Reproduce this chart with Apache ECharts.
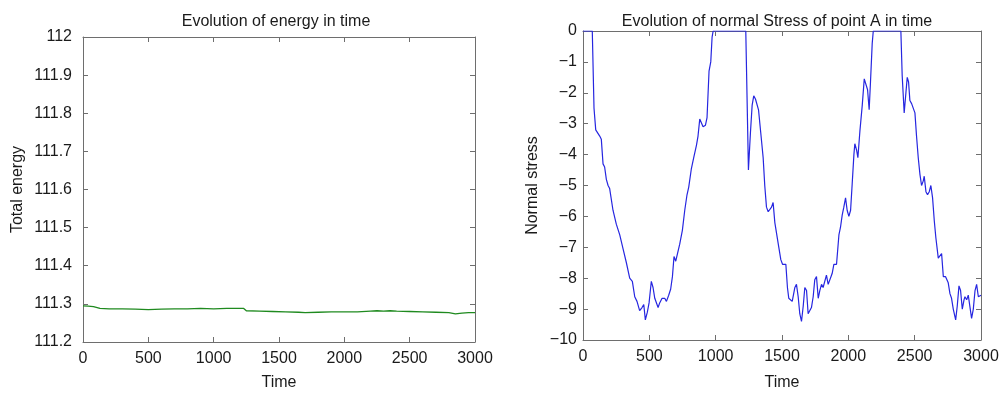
<!DOCTYPE html>
<html>
<head>
<meta charset="utf-8">
<script src="https://cdn.jsdelivr.net/npm/echarts@6/dist/echarts.min.js"></script>
<style>
html,body{margin:0;padding:0;background:#fff;}
#chart{width:1004px;height:396px;}
</style>
</head>
<body>
<div id="chart"></div>
<script>
// ---- Data ----
var energyTime = [0, 40, 80, 130, 200, 300, 400, 500, 600, 700, 800, 900, 1000, 1100, 1200, 1230, 1250, 1350, 1450, 1550, 1650, 1700, 1800, 1900, 2000, 2100, 2200, 2250, 2300, 2350, 2400, 2500, 2600, 2700, 2800, 2850, 2900, 2950, 3000];
var energyValues = [111.295, 111.294, 111.293, 111.288, 111.287, 111.287, 111.286, 111.285, 111.286, 111.287, 111.287, 111.288, 111.287, 111.288, 111.288, 111.288, 111.282, 111.281, 111.280, 111.279, 111.278, 111.277, 111.278, 111.279, 111.279, 111.279, 111.281, 111.282, 111.281, 111.282, 111.281, 111.280, 111.279, 111.278, 111.277, 111.274, 111.276, 111.277, 111.277];

var stressTime = [0, 70, 83, 96, 106, 126, 138, 151, 163, 176, 189, 201, 226, 251, 277, 302, 327, 352, 372, 390, 407, 427, 445, 458, 470, 485, 498, 515, 528, 541, 553, 566, 578, 596, 616, 629, 646, 661, 674, 686, 699, 709, 729, 749, 767, 784, 797, 817, 837, 855, 867, 880, 893, 905, 923, 935, 950, 963, 973, 981, 1227, 1247, 1262, 1275, 1287, 1300, 1308, 1323, 1340, 1358, 1370, 1383, 1396, 1408, 1421, 1433, 1446, 1458, 1476, 1491, 1504, 1529, 1541, 1551, 1564, 1577, 1597, 1609, 1622, 1634, 1647, 1660, 1672, 1685, 1697, 1710, 1722, 1735, 1747, 1760, 1773, 1785, 1798, 1810, 1823, 1835, 1848, 1861, 1878, 1891, 1911, 1929, 1941, 1954, 1966, 1979, 1991, 2004, 2017, 2029, 2042, 2049, 2062, 2072, 2087, 2105, 2120, 2132, 2145, 2157, 2167, 2180, 2188, 2396, 2406, 2421, 2434, 2444, 2454, 2464, 2477, 2489, 2502, 2514, 2527, 2540, 2552, 2565, 2572, 2585, 2597, 2610, 2622, 2635, 2648, 2660, 2678, 2690, 2703, 2716, 2733, 2753, 2766, 2778, 2791, 2809, 2821, 2834, 2846, 2859, 2872, 2879, 2892, 2904, 2917, 2929, 2942, 2955, 2967, 2980, 2992, 3000];
var stressValues = [0, 0, -2.5, -3.2, -3.2, -3.4, -3.5, -4.3, -4.4, -4.8, -5.0, -5.1, -5.8, -6.25, -6.6, -7.05, -7.5, -8.0, -8.1, -8.6, -8.75, -9.05, -8.95, -8.85, -9.35, -9.1, -8.8, -8.1, -8.3, -8.65, -8.7, -8.95, -8.8, -8.65, -8.65, -8.75, -8.55, -8.35, -7.95, -7.3, -7.45, -7.4, -6.9, -6.45, -5.8, -5.3, -5.05, -4.45, -4.05, -3.7, -3.4, -2.85, -2.9, -3.1, -3.05, -2.8, -1.3, -1.0, -0.2, 0, 0, -4.5, -3.3, -2.4, -2.1, -2.2, -2.2, -2.55, -3.3, -4.1, -5.0, -5.7, -5.85, -5.8, -5.7, -5.55, -6.2, -6.25, -7.0, -7.4, -7.55, -7.55, -8.3, -8.65, -8.6, -8.75, -8.3, -8.2, -8.6, -9.15, -9.4, -8.9, -8.3, -8.4, -9.15, -9.15, -8.95, -8.6, -8.05, -7.95, -8.65, -8.4, -8.2, -8.3, -8.35, -7.9, -8.2, -8.25, -7.85, -7.55, -7.55, -6.6, -6.35, -5.95, -5.7, -5.4, -5.8, -6.0, -5.8, -4.95, -4.0, -3.65, -3.85, -4.1, -3.25, -2.4, -1.55, -1.6, -1.9, -2.55, -1.65, -0.4, 0, 0, -1.45, -2.65, -2.0, -1.5, -1.65, -2.25, -2.35, -2.4, -2.65, -3.4, -4.1, -4.65, -5.0, -4.85, -4.7, -5.2, -5.3, -5.2, -5.0, -5.4, -6.15, -6.7, -7.35, -7.35, -7.2, -7.95, -7.95, -8.15, -8.5, -8.65, -9.0, -9.35, -8.9, -8.25, -8.4, -9.0, -8.7, -8.6, -8.7, -8.55, -8.5, -9.3, -9.0, -8.4, -8.2, -8.6, -8.65, -8.55];

var timeTicks = {min: 0, max: 3000, interval: 500};
var energyTicks = {min: 111.2, max: 112, interval: 0.1};
var stressTicks = {min: -10, max: 0, interval: 1};

var titles = ['Evolution of energy in time', 'Evolution of normal Stress of point A in time'];
var xName = 'Time';
var yNames = ['Total energy', 'Normal stress'];

function pairs(xs, ys) { return xs.map(function (x, i) { return [x, ys[i]]; }); }

var FONT = '"Liberation Sans", Arial, Helvetica, sans-serif';
var AXIS_COLOR = '#6e6e6e';
var TEXT_COLOR = '#1a1a1a';
var LABEL = {color: TEXT_COLOR, fontSize: 16, fontFamily: FONT};

function fmtTime(v) { return String(Math.round(v)); }
function fmtEnergy(v) {
  var s = (Math.round(v * 10) / 10).toFixed(1);
  if (s.slice(-2) === '.0') s = s.slice(0, -2);
  return s;
}
function fmtStress(v) {
  var r = Math.round(v);
  return r < 0 ? '\u2212' + Math.abs(r) : String(r);
}

function xAxes(gridIndex, gap) {
  var common = {
    type: 'value', gridIndex: gridIndex,
    min: timeTicks.min, max: timeTicks.max, interval: timeTicks.interval,
    splitLine: {show: false},
    axisLine: {show: true, onZero: false, lineStyle: {color: AXIS_COLOR, width: 1}},
    axisTick: {show: true, inside: true, length: 5, lineStyle: {color: AXIS_COLOR}}
  };
  return [
    Object.assign({}, common, {
      position: 'bottom',
      name: xName, nameLocation: 'middle', nameGap: gap,
      nameTextStyle: {color: TEXT_COLOR, fontSize: 16, fontFamily: FONT},
      axisLabel: Object.assign({margin: 9, formatter: fmtTime}, LABEL)
    }),
    Object.assign({}, common, {position: 'top', axisLabel: {show: false}})
  ];
}
function yAxes(gridIndex, ticks, fmt, gap, margin) {
  var common = {
    type: 'value', gridIndex: gridIndex,
    min: ticks.min, max: ticks.max, interval: ticks.interval,
    splitLine: {show: false},
    axisLine: {show: true, onZero: false, lineStyle: {color: AXIS_COLOR, width: 1}},
    axisTick: {show: true, inside: true, length: 5, lineStyle: {color: AXIS_COLOR}}
  };
  return [
    Object.assign({}, common, {
      position: 'left',
      name: yNames[gridIndex], nameLocation: 'middle', nameGap: gap,
      nameTextStyle: {color: TEXT_COLOR, fontSize: 16, fontFamily: FONT},
      axisLabel: Object.assign({margin: margin, formatter: fmt}, LABEL)
    }),
    Object.assign({}, common, {position: 'right', axisLabel: {show: false}})
  ];
}

var chart = echarts.init(document.getElementById('chart'), null, {renderer: 'canvas'});
chart.setOption({
  animation: false,
  backgroundColor: '#ffffff',
  title: [
    {text: titles[0], left: 271, top: 9, textAlign: 'center',
     textStyle: {fontSize: 16, fontWeight: 'normal', color: TEXT_COLOR, fontFamily: FONT}},
    {text: titles[1], left: 772, top: 9, textAlign: 'center',
     textStyle: {fontSize: 16, fontWeight: 'normal', color: TEXT_COLOR, fontFamily: FONT}}
  ],
  grid: [
    {left: 83, right: 1004 - 475, top: 37, bottom: 396 - 346, containLabel: false},
    {left: 583, right: 1004 - 981, top: 31, bottom: 396 - 344, containLabel: false}
  ],
  xAxis: xAxes(0, 33).concat(xAxes(1, 35)),
  yAxis: yAxes(0, energyTicks, fmtEnergy, 57, 11).concat(yAxes(1, stressTicks, fmtStress, 42, 6)),
  series: [
    {type: 'line', xAxisIndex: 0, yAxisIndex: 0, data: pairs(energyTime, energyValues),
     showSymbol: false, symbol: 'none', lineStyle: {color: '#1f8a1f', width: 1.3}, silent: true},
    {type: 'line', xAxisIndex: 2, yAxisIndex: 2, data: pairs(stressTime, stressValues),
     showSymbol: false, symbol: 'none', clip: true, lineStyle: {color: '#2626e0', width: 1.2}, silent: true}
  ]
});
</script>
</body>
</html>
